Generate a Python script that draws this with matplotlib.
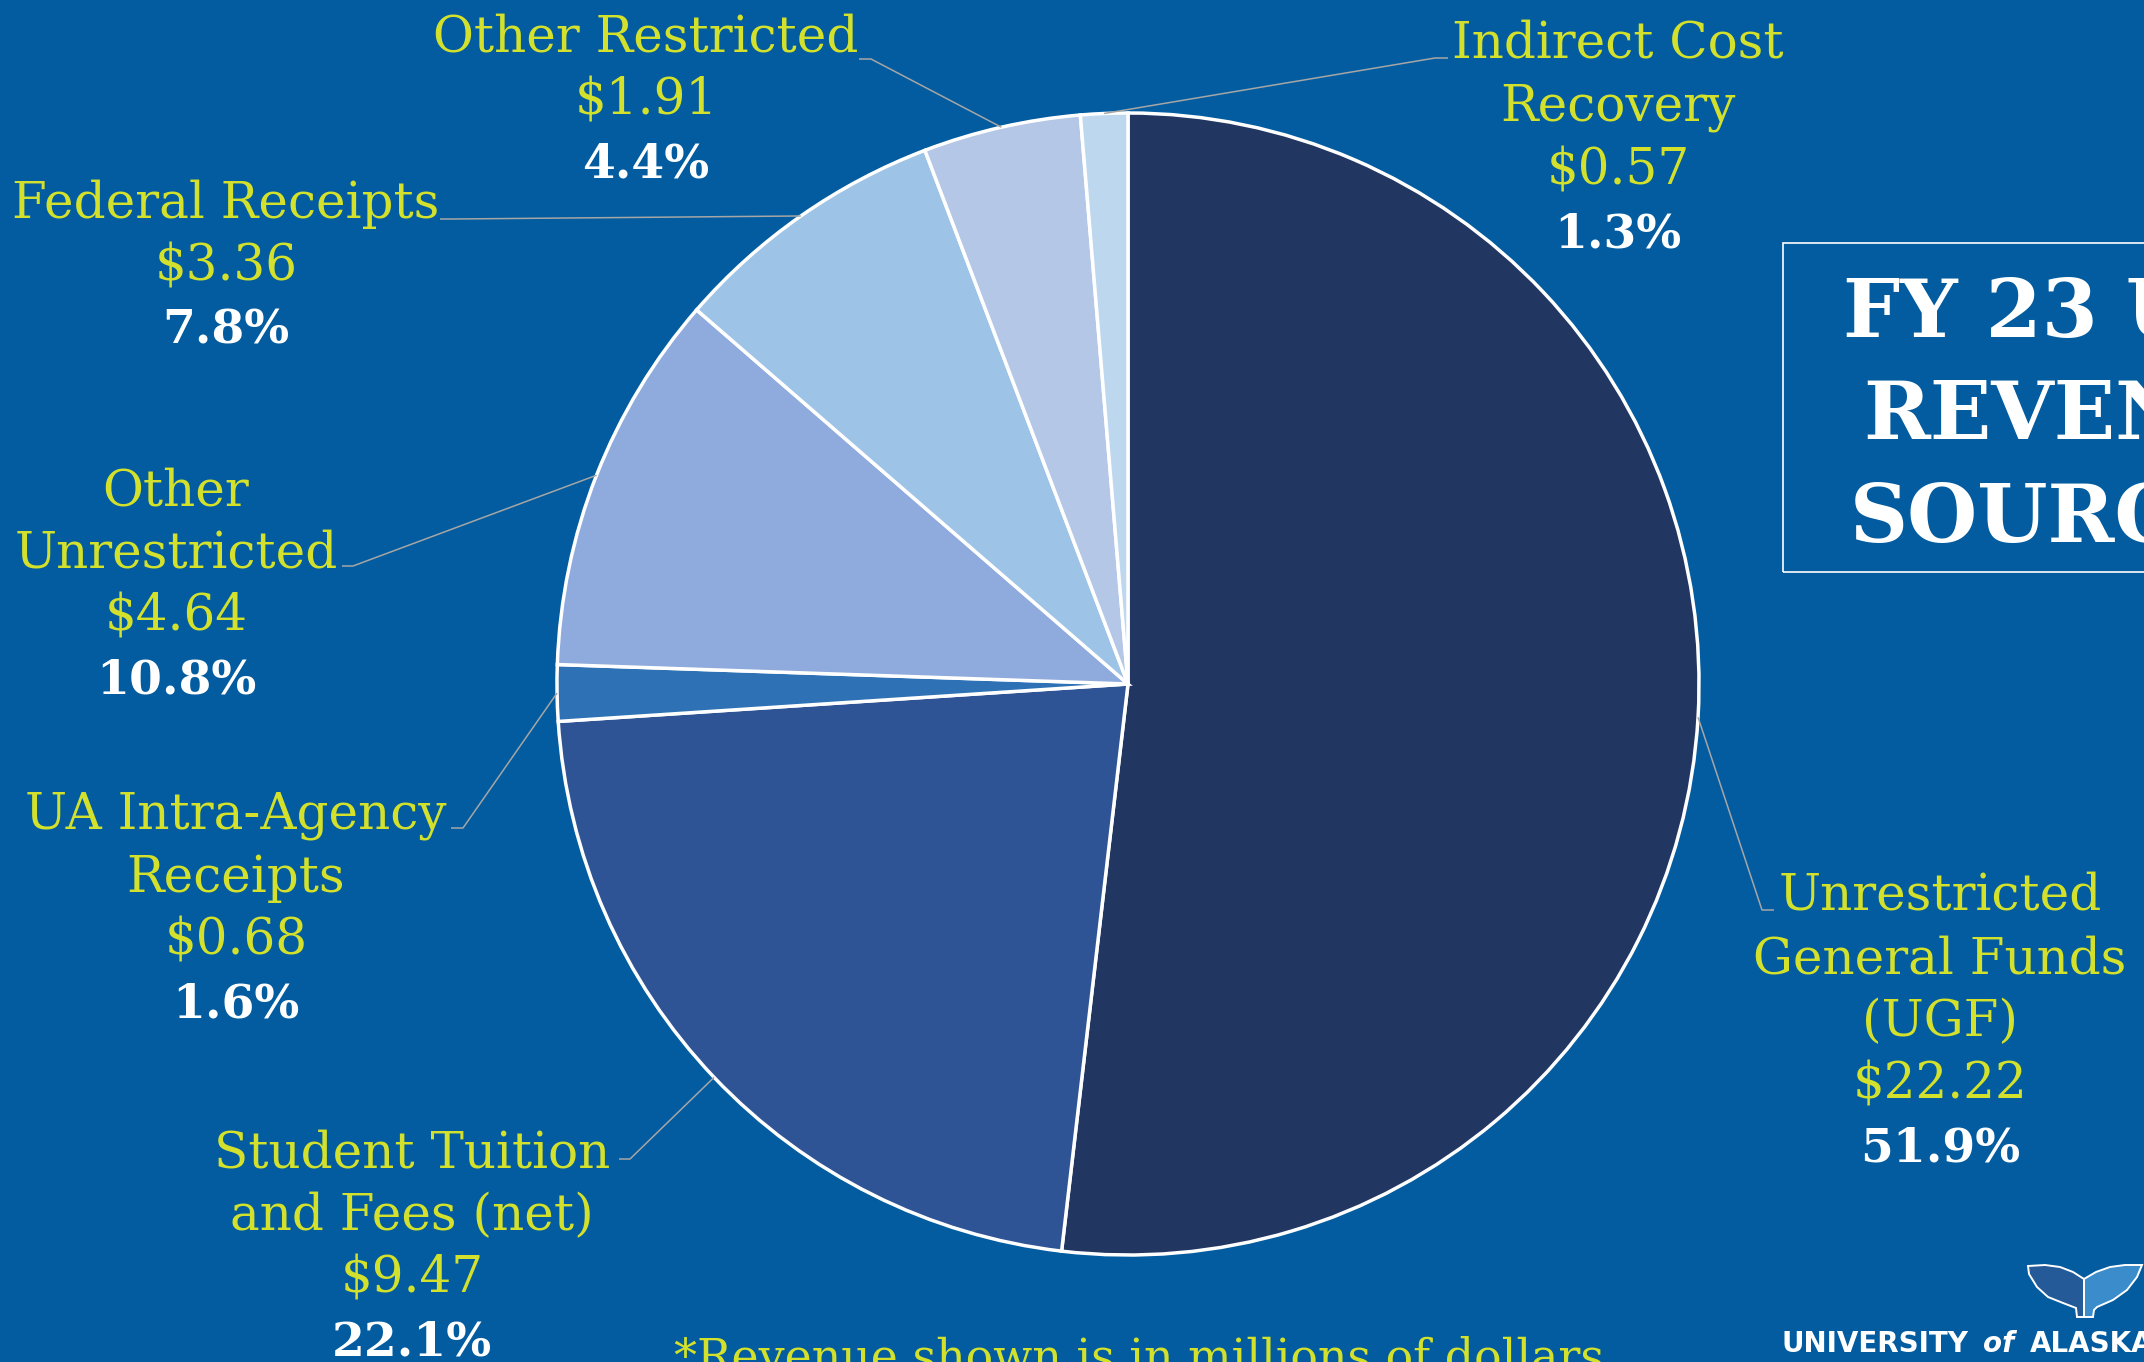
import numpy as np
import matplotlib.pyplot as plt
from matplotlib.patches import Rectangle, Polygon

W, H = 2144, 1362

# FY23 revenue by source, millions of dollars
sources = ["Unrestricted\nGeneral Funds\n(UGF)", "Student Tuition\nand Fees (net)",
           "UA Intra-Agency\nReceipts", "Other\nUnrestricted", "Federal Receipts",
           "Other Restricted", "Indirect Cost\nRecovery"]
revenue = [22.22, 9.47, 0.68, 4.64, 3.36, 1.91, 0.57]
pct_labels = ["51.9%", "22.1%", "1.6%", "10.8%", "7.8%", "4.4%", "1.3%"]
slice_colors = ["#213661", "#2F5495", "#2E72B5", "#8FAADC", "#9DC3E6", "#B4C7E7", "#BDD7EE"]

BG = "#025C9F"
GOLD = "#D3E12C"
LEADER = "#A6A6A6"

# label block placement: centre x, first baseline, leader stub (text end, elbow)
label_x = [1940, 412, 236, 176, 226, 646, 1618]
label_y0 = [910, 1167, 829, 505, 218, 52, 58]
stub_text = [(1774, 910), (619, 1159), (451, 828), (342, 566), (440, 219), (859, 59), (1448, 58)]
stub_elbow = [(1762, 910), (630, 1159), (463, 828), (353, 566), (452, 219), (871, 59), (1435, 58)]
line_gap = 63

cx, cy, R = 1128, 684, 571


def fy(y):
    # image rows run downward, axes y runs upward
    return H - y


fig = plt.figure(figsize=(W / 100, H / 100), dpi=100, facecolor=BG)
ax = fig.add_axes([0, 0, 1, 1])

wedges, _ = ax.pie(revenue, colors=slice_colors, startangle=90, counterclock=False,
                   center=(cx, fy(cy)), radius=R,
                   wedgeprops=dict(edgecolor="white", linewidth=2.5))
ax.set_xlim(0, W)
ax.set_ylim(0, H)
ax.set_aspect("equal")
ax.axis("off")

for i, w in enumerate(wedges):
    mid = np.deg2rad((w.theta1 + w.theta2) / 2)
    ex = cx + R * np.cos(mid)
    ey = fy(cy) + R * np.sin(mid)
    ax.plot([ex, stub_elbow[i][0], stub_text[i][0]],
            [ey, fy(stub_elbow[i][1]), fy(stub_text[i][1])],
            color=LEADER, lw=1.1, solid_capstyle="butt", zorder=1)

    lines = sources[i].split("\n") + ["$%.2f" % revenue[i]]
    for k, s in enumerate(lines):
        ax.text(label_x[i], fy(label_y0[i] + k * line_gap), s, ha="center", va="baseline",
                fontsize=36, family="DejaVu Serif", color=GOLD)
    ax.text(label_x[i], fy(label_y0[i] + len(lines) * line_gap), pct_labels[i],
            ha="center", va="baseline", fontsize=34, family="DejaVu Serif",
            fontweight="bold", color="white")

# title box on the right
ax.add_patch(Rectangle((1783, fy(572)), 450, 329, fill=False, edgecolor="white", lw=1.2))
title_lines = ["FY 23 UA", "REVENUE", "SOURCES"]
title_x = [1843, 1863, 1850]
title_y = [337, 439, 542]
for s, x, y in zip(title_lines, title_x, title_y):
    ax.text(x, fy(y), s, ha="left", va="baseline", fontsize=58, family="DejaVu Serif",
            fontweight="bold", color="white")

ax.text(674, fy(1372), "*Revenue shown is in millions of dollars", ha="left", va="baseline",
        fontsize=33, family="DejaVu Serif", color=GOLD)

# university logo: whale tail and wordmark
left_lobe = [(2028, 1266), (2045, 1265), (2060, 1267), (2073, 1272), (2084, 1279),
             (2084, 1317), (2077, 1317), (2076, 1308), (2063, 1303), (2048, 1297),
             (2037, 1287), (2029, 1274)]
right_lobe = [(2084, 1279), (2096, 1272), (2110, 1267), (2125, 1265), (2142, 1265),
              (2137, 1277), (2127, 1290), (2113, 1300), (2097, 1307), (2094, 1310),
              (2093, 1317), (2084, 1317)]
for pts, col in [(left_lobe, "#245A97"), (right_lobe, "#3A8CCB")]:
    ax.add_patch(Polygon([(x, fy(y)) for x, y in pts], closed=True, facecolor=col,
                         edgecolor="white", lw=1.4, zorder=3))
ax.text(1782, fy(1352), "UNIVERSITY", ha="left", va="baseline", fontsize=20,
        family="DejaVu Sans", fontweight="bold", color="white")
ax.text(1983, fy(1352), "of", ha="left", va="baseline", fontsize=20,
        family="DejaVu Sans", fontweight="bold", style="italic", color="white")
ax.text(2030, fy(1352), "ALASKA", ha="left", va="baseline", fontsize=20,
        family="DejaVu Sans", fontweight="bold", color="white")

fig.savefig("out.png", dpi=100, facecolor=BG)
